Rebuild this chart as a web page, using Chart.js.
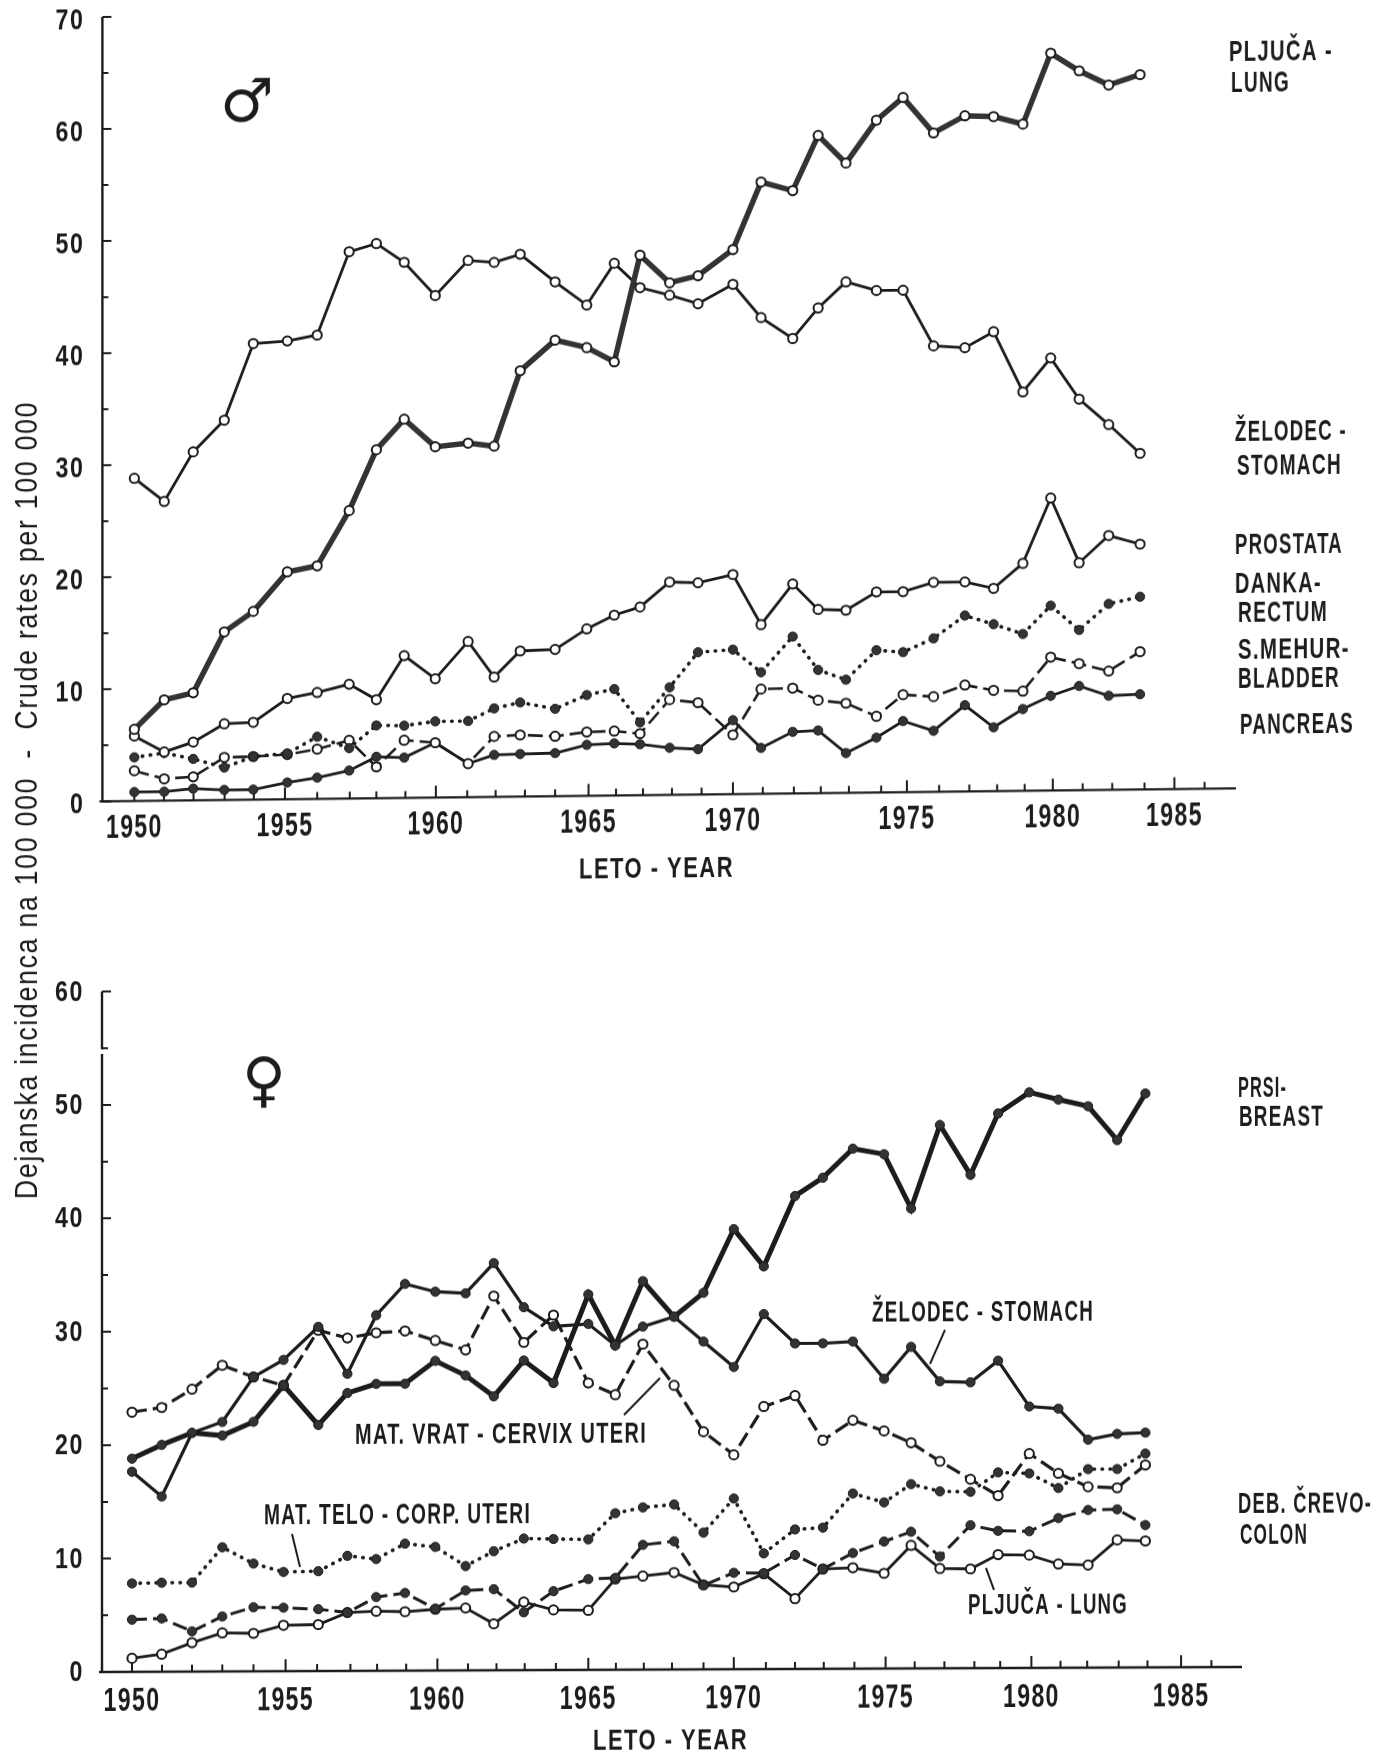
<!DOCTYPE html>
<html>
<head>
<meta charset="utf-8">
<script src="https://cdn.jsdelivr.net/npm/chart.js@4"></script>
<style>
body { margin: 0; background: #fff; }
#page { position: relative; width: 1391px; height: 1756px; overflow: hidden; }
canvas { position: absolute; left: 0; }
#top { top: 0; transform-origin: 103px 0; transform: skewY(-0.657deg); }
#bottom { top: 900px; transform-origin: 102px 0; transform: skewY(-0.252deg); }
#ytitle { position: absolute; left: 27px; top: 800px; white-space: pre; color: #1a1a1a;
  font: 31px 'Liberation Sans'; letter-spacing: 2px; }
</style>
</head>
<body>
<div id="page">
  <canvas id="top" width="1391" height="900"></canvas>
  <canvas id="bottom" width="1391" height="856"></canvas>
  <div id="ytitle">Dejanska incidenca na 100 000  -  Crude rates per 100 000</div>
</div>
<script>
// the plot is hand drawn, so the points for 1950..1984 sit a little off the whole years
var plotYearsTop = [1950,1951.01,1951.99,1953.04,1954.02,1955.17,1956.18,1957.26,1958.18,1959.12,1960.17,1961.28,1962.16,1963.04,1964.22,1965.29,1966.22,1967.09,1968.09,1969.05,1970.23,1971.18,1972.25,1973.11,1974.05,1975.08,1975.98,1977.01,1978.07,1979.04,1980.03,1980.97,1981.93,1982.93,1983.99];
var plotYearsBottom = [1950,1950.99,1952,1953.01,1954.05,1955.05,1956.21,1957.18,1958.14,1959.1,1960.11,1961.12,1962.06,1963.06,1964.05,1965.21,1966.11,1967.03,1968.07,1969.05,1970.06,1971.06,1972.1,1973.03,1974.03,1975.07,1975.97,1976.93,1977.95,1978.87,1979.91,1980.88,1981.87,1982.84,1983.78];

// men
var lungM = [6.4,9.0,9.6,15.0,16.8,20.3,20.8,25.7,31.1,33.8,31.3,31.6,31.3,38.0,40.7,40.0,38.7,48.2,45.7,46.3,48.6,54.6,53.8,58.7,56.2,60.0,62.0,58.8,60.3,60.2,59.5,65.8,64.2,62.9,63.8];
var stomachM = [28.8,26.7,31.1,33.9,40.7,40.9,41.4,48.8,49.5,47.8,44.8,47.9,47.7,48.4,45.9,43.8,47.5,45.3,44.6,43.8,45.5,42.5,40.6,43.3,45.6,44.8,44.8,39.8,39.6,41.0,35.6,38.6,34.9,32.6,30.0];
var prostate = [5.8,4.35,5.2,6.8,6.9,9.0,9.5,10.2,8.8,12.7,10.6,13.9,10.7,13.0,13.1,14.9,16.1,16.8,19.0,18.9,19.6,15.1,18.7,16.4,16.3,17.9,17.9,18.7,18.7,18.1,20.3,26.1,20.3,22.7,21.9];
var rectum = [3.9,4.25,3.7,2.9,3.85,4.1,5.55,4.5,6.5,6.45,6.8,6.8,7.9,8.4,7.8,9.0,9.5,6.5,9.6,12.7,12.9,10.85,14.0,11.0,10.1,12.7,12.5,13.7,15.7,14.9,14.0,16.5,14.3,16.6,17.2];
var bladder = [2.7,1.95,2.1,3.8,3.85,4.0,4.45,5.2,2.8,5.15,4.9,3.0,5.4,5.5,5.35,5.7,5.75,5.5,8.5,8.2,5.3,9.35,9.4,8.3,8.0,6.8,8.7,8.5,9.5,9.0,8.9,11.9,11.3,10.6,12.3];
var pancreas = [0.8,0.8,1.05,0.9,0.9,1.5,1.9,2.5,3.7,3.6,4.9,3.0,3.75,3.8,3.85,4.55,4.65,4.55,4.2,4.05,6.6,4.1,5.5,5.6,3.55,4.9,6.35,5.45,7.7,5.7,7.3,8.45,9.3,8.4,8.5];

// women
var breast = [18.8,20.0,21.05,20.8,22.0,25.2,21.7,24.5,25.3,25.3,27.3,26.0,24.15,27.3,25.3,33.1,28.6,34.25,31.1,33.2,38.8,35.5,41.7,43.3,45.85,45.35,40.55,47.9,43.5,48.9,50.75,50.1,49.5,46.5,50.6];
var stomachF = [17.65,15.45,21.05,22.0,25.95,27.45,30.35,26.2,31.35,34.1,33.4,33.25,35.9,32.0,30.3,30.5,28.6,30.25,31.1,28.9,26.65,31.3,28.7,28.7,28.85,25.55,28.35,25.3,25.2,27.1,23.05,22.85,20.1,20.6,20.7];
var cervix = [22.9,23.3,24.9,27.0,25.95,25.2,30.05,29.35,29.8,29.95,29.1,28.25,33.0,28.9,31.3,25.3,24.25,28.7,25.05,20.95,18.9,23.15,24.1,20.15,21.9,20.95,19.9,18.25,16.65,15.2,18.9,17.15,15.95,15.85,17.85];
var corpus = [7.8,7.85,7.85,10.95,9.5,8.75,8.8,10.15,9.85,11.2,10.9,9.2,10.5,11.6,11.55,11.5,13.8,14.3,14.55,12.05,15.05,10.2,12.3,12.45,15.45,14.65,16.25,15.6,15.55,17.25,17.15,15.85,17.5,17.5,18.85];
var colon = [4.6,4.7,3.55,4.85,5.65,5.6,5.45,5.15,6.5,6.85,5.45,7.05,7.15,5.1,6.95,8.0,8.1,11.0,11.3,7.4,8.5,8.45,10.05,8.8,10.2,11.2,12.05,9.85,12.6,12.1,12.05,13.2,13.9,13.95,12.55];
var lungF = [1.2,1.55,2.55,3.4,3.35,4.05,4.1,5.15,5.25,5.2,5.4,5.5,4.1,6.0,5.3,5.25,8.0,8.25,8.55,7.45,7.25,8.4,6.2,8.8,8.9,8.4,10.85,8.8,8.75,10.0,9.95,9.15,9.05,11.25,11.15];

// x axis as printed: in the upper panel the 1975 and 1980 labels sit one tick late
var ticksTop = [1950,1951,1952,1953.05,1954.04,1955.09,1956.18,1957.28,1958.18,1959.16,1960.19,1961.25,1962.21,1963.2,1964.22,1965.35,1966.28,1967.19,1968.17,1969.17,1970.23,1971.24,1972.29,1973.2,1974.15,1975.24,1976.11,1977.2,1978.22,1979.16,1980.09,1981.04,1982.05,1983.05,1984.14,1985.15,1986.17];
var ticksBottom = [1950,1951,1952,1953.01,1954.05,1955.12,1956.17,1957.28,1958.17,1959.14,1960.18,1961.2,1962.15,1963.09,1964.13,1965.21,1966.13,1967.06,1968,1969.05,1970.06,1971.13,1972.1,1973.06,1974.08,1975.12,1976.09,1977.08,1978.08,1978.94,1979.98,1980.95,1981.84,1982.89,1983.85,1984.97,1985.98];
var longTicksTop = [0,5,10,15,20,26,31,35];
var longTicksBottom = [0,5,10,15,20,25,30,35];
var tickLabels = ['1950','1955','1960','1965','1970','1975','1980','1985'];

var ink = '#1c1c1c';

// kind: weight of line, dash pattern and marker fill
function series(label, xValues, values, kind) {
    var dotted = kind.dash === 'dot';
    return {
        label: label,
        data: values.map(function(v, i) { return {x: xValues[i], y: v}; }),
        borderColor: kind.color || ink,
        borderWidth: kind.width,
        borderDash: dotted ? [0.5, 7.5] : (kind.dash ? [15, 6] : []),
        borderCapStyle: dotted ? 'round' : 'butt',
        tension: 0,
        pointRadius: 4.6,
        pointBorderWidth: kind.filled ? 1 : 2,
        pointBorderColor: ink,
        pointBackgroundColor: kind.filled ? '#333' : '#fff'
    };
}

// text and leader lines, given in page pixels of the finished picture
var textTop = [
    ['PLJUČA -', 1229, 53, 104], ['LUNG', 1231, 84, 59],
    ['ŽELODEC -', 1235, 433, 112], ['STOMACH', 1237, 467, 105],
    ['PROSTATA', 1235, 546, 108],
    ['DANKA-', 1235, 585, 87], ['RECTUM', 1238, 614, 90],
    ['S.MEHUR-', 1238, 651, 112], ['BLADDER', 1238, 680, 102],
    ['PANCREAS', 1240, 726, 114],
    ['LETO - YEAR', 579, 870, 155]
];
var textBottom = [
    ['PRSI-', 1238, 1089, 49], ['BREAST', 1239, 1118, 85],
    ['DEB. ČREVO-', 1238, 1505, 134], ['COLON', 1240, 1536, 68],
    ['ŽELODEC - STOMACH', 872, 1313, 222],
    ['MAT. VRAT - CERVIX UTERI', 355, 1436, 292],
    ['MAT. TELO - CORP. UTERI', 264, 1516, 267],
    ['PLJUČA - LUNG', 968, 1606, 160],
    ['LETO - YEAR', 593, 1742, 155]
];
var leadersBottom = [
    [292, 1534, 300, 1567],
    [624, 1415, 660, 1378],
    [945, 1330, 930, 1364],
    [986, 1568, 994, 1590]
];

// squeezes a wide font sideways, no narrow face is installed
function narrowText(ctx, text, x, y, squeeze) {
    ctx.save();
    ctx.translate(x, y);
    ctx.scale(squeeze, 1);
    ctx.fillText(text, 0, 0);
    ctx.restore();
}

// axis lines, ticks and notes are hand drawn in the original, so do them here
var scanPlugin = {
    id: 'scan',
    beforeDatasetsDraw: function(chart, args, o) {
        var ctx = chart.ctx, xs = chart.scales.x, ys = chart.scales.y;
        ctx.save();
        ctx.strokeStyle = ink;
        ctx.lineWidth = 2.4;
        o.axisParts.forEach(function(part) {
            ctx.beginPath();
            ctx.moveTo(xs.left, ys.getPixelForValue(part[0]));
            ctx.lineTo(xs.left, ys.getPixelForValue(part[1]));
            ctx.stroke();
        });
        ctx.beginPath();
        ctx.moveTo(xs.left - 3, ys.bottom);
        ctx.lineTo(xs.right, ys.bottom);
        ctx.stroke();

        ctx.lineWidth = 2;
        ctx.beginPath();
        xs.ticks.forEach(function(tk) {
            var px = xs.getPixelForValue(tk.value);
            ctx.moveTo(px, ys.bottom);
            ctx.lineTo(px, ys.bottom - (tk.label ? 12 : 7));
        });
        ys.ticks.forEach(function(tk) {
            var py = ys.getPixelForValue(tk.value);
            ctx.moveTo(xs.left, py);
            ctx.lineTo(xs.left + (tk.label !== '' ? 9 : 6), py);
        });
        ctx.stroke();

        o.leaders.forEach(function(l) {
            ctx.beginPath();
            ctx.moveTo(l[0], o.toY(l[0], l[1]));
            ctx.lineTo(l[2], o.toY(l[2], l[3]));
            ctx.stroke();
        });

        ctx.fillStyle = ink;
        ctx.textBaseline = 'middle';
        ctx.letterSpacing = '2px';

        // tick labels come from the scales
        ctx.font = "bold 34px 'Liberation Sans'";
        ctx.textAlign = 'center';
        xs.ticks.forEach(function(tk) {
            if (tk.label) narrowText(ctx, tk.label, xs.getPixelForValue(tk.value), ys.bottom + o.xLabelGap, 0.68);
        });
        ctx.font = "bold 29px 'Liberation Sans'";
        ctx.textAlign = 'right';
        ys.ticks.forEach(function(tk) {
            if (tk.label !== '') narrowText(ctx, tk.label, xs.left - 18, ys.getPixelForValue(tk.value) + o.yLabelShift, 0.8);
        });

        ctx.font = "bold 30px 'Liberation Sans'";
        ctx.textAlign = 'left';
        o.notes.forEach(function(n) {
            narrowText(ctx, n[0], n[1], o.toY(n[1], n[2]), n[3] / ctx.measureText(n[0]).width);
        });
        ctx.letterSpacing = '0px';
        ctx.font = "60px 'DejaVu Sans'";
        ctx.textAlign = 'center';
        ctx.fillText(o.symbol[0], o.symbol[1], o.toY(o.symbol[1], o.symbol[2]));
        ctx.restore();
    }
};

function panel(id, p) {
    return new Chart(document.getElementById(id), {
        type: 'line',
        data: {datasets: p.datasets},
        plugins: [scanPlugin],
        options: {
            responsive: false,
            animation: false,
            layout: {padding: {top: p.top, right: p.right, left: 0, bottom: 0}},
            plugins: {
                legend: {display: false},
                tooltip: {enabled: false},
                scan: {axisParts: p.axisParts, notes: p.notes, leaders: p.leaders,
                       symbol: p.symbol, toY: p.toY, xLabelGap: p.xLabelGap, yLabelShift: p.yLabelShift}
            },
            scales: {
                x: {
                    type: 'linear',
                    min: p.xMin,
                    max: p.xMax,
                    afterBuildTicks: function(scale) {
                        scale.ticks = p.ticks.map(function(v) { return {value: v}; });
                    },
                    afterFit: function(scale) { scale.height = p.xHeight; },
                    grid: {display: false},
                    border: {display: false},
                    ticks: {
                        display: false,
                        autoSkip: false,
                        callback: function(v, i) {
                            var k = p.longTicks.indexOf(i);
                            return k >= 0 ? tickLabels[k] : '';
                        }
                    }
                },
                y: {
                    min: 0,
                    max: p.yMax,
                    afterFit: function(scale) { scale.width = p.yWidth; },
                    grid: {display: false},
                    border: {display: false},
                    ticks: {
                        display: false,
                        stepSize: 5,
                        callback: function(v) { return v % 10 === 0 ? String(v) : ''; }
                    }
                }
            }
        }
    });
}

var thin = {width: 2.8, filled: false};

panel('top', {
    datasets: [
        series('Lung', plotYearsTop, lungM, {width: 5.5, filled: false, color: '#333'}),
        series('Stomach', plotYearsTop, stomachM, thin),
        series('Prostate', plotYearsTop, prostate, thin),
        series('Rectum', plotYearsTop, rectum, {width: 3.6, dash: 'dot', filled: true}),
        series('Bladder', plotYearsTop, bladder, {width: 2.6, dash: true, filled: false}),
        series('Pancreas', plotYearsTop, pancreas, {width: 2.8, filled: true})
    ],
    top: 17, right: 155, xHeight: 98.6, yWidth: 102.4,
    xMin: 1948.92, xMax: 1987.23, yMax: 70,
    axisParts: [[0, 70]],
    ticks: ticksTop, longTicks: longTicksTop,
    xLabelGap: 27, yLabelShift: 4,
    notes: textTop, leaders: [], symbol: ['♂', 247, 106],
    toY: function(x, y) { return y + (x - 103) * 0.01146; }
});

panel('bottom', {
    datasets: [
        series('Breast', plotYearsBottom, breast, {width: 5, filled: true}),
        series('Stomach', plotYearsBottom, stomachF, {width: 3.2, filled: true}),
        series('Cervix uteri', plotYearsBottom, cervix, {width: 3.2, dash: true, filled: false}),
        series('Corpus uteri', plotYearsBottom, corpus, {width: 3.6, dash: 'dot', filled: true}),
        series('Colon', plotYearsBottom, colon, {width: 3, dash: true, filled: true}),
        series('Lung', plotYearsBottom, lungF, {width: 2.8, filled: false})
    ],
    top: 91.5, right: 149, xHeight: 84, yWidth: 102,
    xMin: 1949, xMax: 1987, yMax: 60,
    axisParts: [[0, 54.5], [54.9, 60]],
    ticks: ticksBottom, longTicks: longTicksBottom,
    xLabelGap: 30, yLabelShift: 1,
    notes: textBottom, leaders: leadersBottom, symbol: ['♀', 264, 1085],
    toY: function(x, y) { return y - 900 + (x - 102) * 0.0044; }
});

// y title runs across both panels, fit it to the length in the picture
var ytitle = document.getElementById('ytitle');
ytitle.style.transform = 'translate(-50%, -50%) rotate(-90deg) scaleX(' + (798 / ytitle.offsetWidth) + ')';
</script>
</body>
</html>
